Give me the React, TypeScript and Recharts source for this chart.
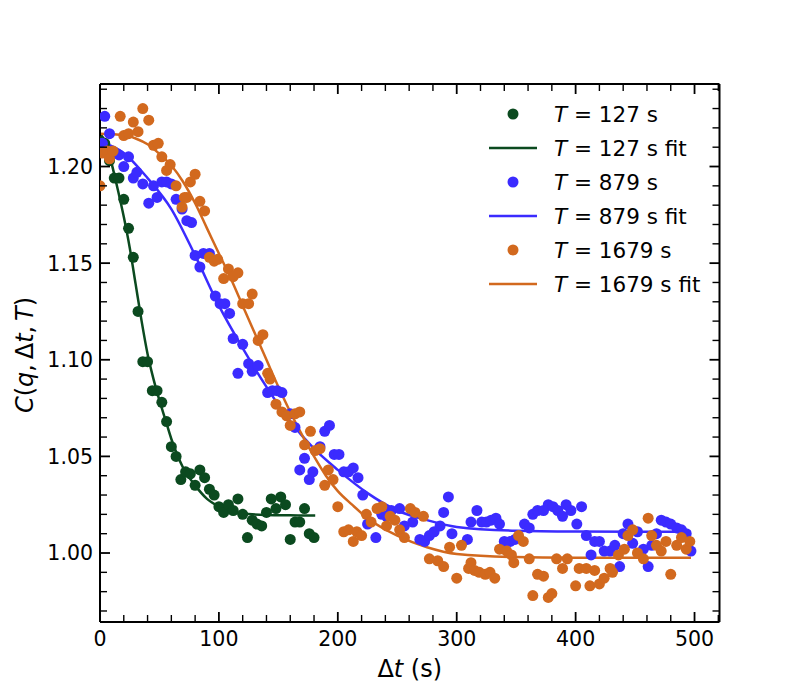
import { ComposedChart, Scatter, Line, XAxis, YAxis, Legend } from "recharts";

const FONT = "'DejaVu Sans', sans-serif";
const GREEN = "#0b4a1f";
const BLUE = "#3b2bff";
const ORANGE = "#d2691e";

// T = 127 s
const greenT = [0, 4, 8, 12, 16, 20, 24, 28, 32, 36, 40, 44, 48, 52, 56, 60, 64, 68, 72, 76, 80, 84, 88, 92, 96, 100, 104, 108, 112, 116, 120, 124, 128, 132, 136, 140, 144, 148, 152, 156, 160, 164, 168, 172, 176, 180];
const greenC = [1.213, 1.212, 1.203, 1.194, 1.194, 1.183, 1.168, 1.153, 1.125, 1.099, 1.099, 1.084, 1.084, 1.078, 1.068, 1.055, 1.05, 1.038, 1.042, 1.041, 1.035, 1.043, 1.039, 1.033, 1.03, 1.024, 1.021, 1.025, 1.022, 1.028, 1.02, 1.008, 1.017, 1.015, 1.014, 1.021, 1.028, 1.023, 1.029, 1.025, 1.007, 1.016, 1.016, 1.023, 1.01, 1.008];
const greenFitT = [0, 5, 10, 15, 20, 25, 30, 35, 40, 45, 50, 55, 60, 70, 80, 90, 100, 110, 120, 140, 160, 181];
const greenFitC = [1.217, 1.212, 1.201, 1.188, 1.174, 1.158, 1.139, 1.12, 1.103, 1.09, 1.079, 1.069, 1.059, 1.044, 1.035, 1.028, 1.024, 1.0215, 1.0205, 1.0197, 1.0195, 1.0194];

// T = 879 s
const blueT = [2, 4, 8, 12, 16, 20, 24, 28, 31, 36, 41, 45, 48, 52, 56, 60, 64, 69, 73, 77, 80, 84, 87, 92, 97, 101, 105, 109, 112, 116, 120, 125, 128, 133, 141, 145, 149, 153, 160, 164, 168, 172, 176, 179, 185, 189, 193, 197, 201, 205, 209, 213, 217, 221, 225, 232, 237, 241, 245, 252, 256, 263, 269, 273, 277, 281, 286, 289, 293, 296, 309, 312, 317, 321, 325, 329, 333, 336, 340, 345, 349, 357, 361, 364, 368, 373, 377, 381, 385, 389, 392, 396, 401, 405, 409, 413, 416, 420, 424, 429, 433, 437, 440, 444, 448, 452, 457, 461, 464, 468, 472, 476, 480, 485, 489, 493, 497];
const blueC = [1.212, 1.226, 1.217, 1.207, 1.206, 1.2, 1.205, 1.194, 1.197, 1.191, 1.181, 1.19, 1.184, 1.192, 1.192, 1.191, 1.183, 1.178, 1.172, 1.171, 1.154, 1.148, 1.155, 1.155, 1.133, 1.129, 1.129, 1.124, 1.111, 1.093, 1.108, 1.098, 1.094, 1.097, 1.083, 1.084, 1.084, 1.083, 1.072, 1.065, 1.043, 1.049, 1.038, 1.042, 1.055, 1.063, 1.066, 1.051, 1.051, 1.042, 1.042, 1.044, 1.039, 1.03, 1.015, 1.008, 1.02, 1.019, 1.022, 1.023, 1.014, 1.016, 1.007, 1.006, 1.009, 1.011, 1.014, 1.021, 1.029, 1.01, 1.007, 1.016, 1.022, 1.016, 1.016, 1.017, 1.018, 1.015, 1.006, 1.006, 1.007, 1.015, 1.013, 1.02, 1.022, 1.022, 1.025, 1.024, 1.022, 1.019, 1.025, 1.022, 1.015, 1.024, 1.009, 0.999, 1.006, 1.006, 1.001, 1.001, 1.004, 0.993, 1.01, 1.015, 1.005, 1.011, 1.002, 0.993, 1.004, 1.01, 1.017, 1.016, 1.015, 1.013, 1.012, 1.01, 1.001];
const blueFitT = [0, 20, 40, 60, 80, 100, 120, 140, 160, 180, 200, 225, 250, 275, 300, 350, 400, 450, 497];
const blueFitC = [1.213, 1.207, 1.194, 1.178, 1.154, 1.128, 1.106, 1.086, 1.068, 1.054, 1.043, 1.031, 1.022, 1.017, 1.0135, 1.0115, 1.0111, 1.011, 1.011];

// T = 1679 s
const orangeT = [0, 2, 6, 8, 11, 17, 20, 24, 28, 32, 36, 41, 45, 49, 52, 56, 59, 64, 69, 71, 73, 76, 80, 84, 88, 92, 96, 99, 104, 108, 112, 116, 120, 125, 128, 133, 137, 141, 143, 148, 153, 157, 160, 164, 168, 172, 177, 181, 185, 189, 192, 196, 200, 205, 209, 213, 216, 220, 224, 228, 233, 237, 241, 244, 248, 252, 256, 261, 265, 272, 277, 284, 289, 294, 300, 304, 310, 312, 315, 319, 324, 328, 332, 336, 342, 346, 348, 352, 356, 361, 364, 368, 373, 377, 380, 384, 389, 393, 400, 403, 409, 412, 416, 420, 424, 429, 431, 436, 441, 444, 448, 452, 457, 461, 464, 468, 472, 476, 480, 485, 489, 493, 496];
const orangeC = [1.19, 1.207, 1.208, 1.204, 1.208, 1.226, 1.216, 1.217, 1.223, 1.218, 1.23, 1.224, 1.211, 1.212, 1.205, 1.198, 1.201, 1.19, 1.179, 1.184, 1.184, 1.192, 1.196, 1.182, 1.177, 1.153, 1.151, 1.152, 1.142, 1.147, 1.143, 1.145, 1.129, 1.129, 1.134, 1.11, 1.113, 1.093, 1.09, 1.077, 1.073, 1.071, 1.066, 1.072, 1.073, 1.056, 1.063, 1.053, 1.054, 1.035, 1.043, 1.038, 1.024, 1.011, 1.012, 1.006, 1.011, 1.009, 1.02, 1.016, 1.023, 1.024, 1.014, 1.019, 1.017, 1.012, 1.008, 1.023, 1.021, 1.019, 0.997, 0.996, 0.993, 1.003, 0.987, 1.004, 0.992, 0.995, 0.991, 0.99, 0.989, 0.99, 0.987, 1.002, 1.001, 0.999, 0.995, 1.009, 1.006, 0.997, 0.978, 0.989, 0.988, 0.977, 0.979, 0.997, 0.992, 0.997, 0.983, 0.992, 0.992, 0.983, 0.991, 0.984, 0.987, 0.992, 0.99, 0.999, 1.002, 1.009, 1.012, 1.0, 0.997, 1.018, 1.009, 1.004, 1.001, 1.006, 0.989, 1.004, 1.008, 1.002, 1.006];
const orangeFitT = [0, 20, 30, 40, 50, 60, 70, 80, 90, 100, 110, 120, 130, 140, 150, 160, 170, 180, 190, 200, 212, 225, 250, 275, 300, 350, 400, 497];
const orangeFitC = [1.217, 1.2163, 1.2145, 1.2115, 1.2065, 1.2005, 1.192, 1.181, 1.168, 1.155, 1.142, 1.128, 1.114, 1.1, 1.086, 1.073, 1.061, 1.05, 1.04, 1.032, 1.025, 1.018, 1.009, 1.003, 0.9995, 0.9979, 0.9976, 0.9975];

const xTicks = [0, 20, 40, 60, 80, 100, 120, 140, 160, 180, 200, 220, 240, 260, 280, 300, 320, 340, 360, 380, 400, 420, 440, 460, 480, 500, 520];
const yTicks = [0.97, 0.98, 0.99, 1.0, 1.01, 1.02, 1.03, 1.04, 1.05, 1.06, 1.07, 1.08, 1.09, 1.1, 1.11, 1.12, 1.13, 1.14, 1.15, 1.16, 1.17, 1.18, 1.19, 1.2, 1.21, 1.22, 1.23, 1.24];

const legendLabels = ["127 s", "127 s fit", "879 s", "879 s fit", "1679 s", "1679 s fit"];
const legendColors = [GREEN, GREEN, BLUE, BLUE, ORANGE, ORANGE];

const pts = (t: number[], c: number[]) => t.map((x, i) => ({ t: x, v: c[i] }));

const isMajorX = (v: number) => v % 100 === 0;
const isMajorY = (v: number) => Math.round(v * 100) % 5 === 0;

function BottomTick({ x, y, payload }: any) {
  const major = isMajorX(payload.value);
  return (
    <g>
      <line x1={x} x2={x} y1={y} y2={y - (major ? 10 : 7)} stroke="#000" strokeWidth={major ? 1.8 : 1.4} />
      {major && (
        <text x={x} y={y + 24} textAnchor="middle" fontSize={20.5} fontFamily={FONT} fill="#000">
          {payload.value}
        </text>
      )}
    </g>
  );
}

function TopTick({ x, y, payload }: any) {
  const major = isMajorX(payload.value);
  return <line x1={x} x2={x} y1={y} y2={y + (major ? 10 : 7)} stroke="#000" strokeWidth={major ? 1.8 : 1.4} />;
}

function LeftTick({ x, y, payload }: any) {
  const major = isMajorY(payload.value);
  return (
    <g>
      <line x1={x} x2={x + (major ? 10 : 7)} y1={y} y2={y} stroke="#000" strokeWidth={major ? 1.8 : 1.4} />
      {major && (
        <text x={x - 7} y={y} dy="0.36em" textAnchor="end" fontSize={20.5} fontFamily={FONT} fill="#000">
          {payload.value.toFixed(2)}
        </text>
      )}
    </g>
  );
}

function RightTick({ x, y, payload }: any) {
  const major = isMajorY(payload.value);
  return <line x1={x} x2={x - (major ? 10 : 7)} y1={y} y2={y} stroke="#000" strokeWidth={major ? 1.8 : 1.4} />;
}

function XLabel({ viewBox }: any) {
  const cx = viewBox.x + viewBox.width / 2;
  return (
    <text x={cx} y={viewBox.y + 55} textAnchor="middle" fontSize={24} fontFamily={FONT} fill="#000">
      Δ<tspan fontStyle="italic">t</tspan> (s)
    </text>
  );
}

function YLabel({ viewBox }: any) {
  const cx = 25;
  const cy = viewBox.y + viewBox.height / 2 + 2;
  return (
    <text x={cx} y={cy} transform={`rotate(-90, ${cx}, ${cy})`} textAnchor="middle" fontSize={24} fontFamily={FONT} fill="#000">
      <tspan fontStyle="italic">C</tspan>(<tspan fontStyle="italic">q</tspan>,{"\u2009"}Δ<tspan fontStyle="italic">t</tspan>,{"\u2009"}
      <tspan fontStyle="italic">T</tspan>)
    </text>
  );
}

function LegendBox() {
  return (
    <svg width={240} height={215}>
      {legendLabels.map((lab, i) => {
        const cy = 20 + i * 34;
        const color = legendColors[i];
        return (
          <g key={lab}>
            {i % 2 === 0 ? (
              <circle cx={33} cy={cy} r={5.5} fill={color} />
            ) : (
              <line x1={9} x2={57} y1={cy} y2={cy} stroke={color} strokeWidth={2.5} />
            )}
            <text x={74} y={cy + 8} fontSize={21.5} fontFamily={FONT} fill="#000">
              <tspan fontStyle="italic">T</tspan>
              {` = ${lab}`}
            </text>
          </g>
        );
      })}
    </svg>
  );
}

const dot = (color: string) => (p: any) => <circle cx={p.cx} cy={p.cy} r={5.5} fill={color} />;

export default function App() {
  return (
    <div style={{ width: 792, height: 692, position: "relative", background: "#fff" }}>
      <ComposedChart width={792} height={692} margin={{ top: 75, right: 79.5, bottom: 18, left: 12 }}>
        <XAxis
          xAxisId="b"
          dataKey="t"
          type="number"
          domain={[0, 521]}
          allowDataOverflow
          ticks={xTicks}
          interval={0}
          tickSize={0}
          tickMargin={0}
          tickLine={false}
          tick={<BottomTick />}
          axisLine={{ stroke: "#000", strokeWidth: 2 }}
          height={60}
          label={<XLabel />}
        />
        <XAxis
          xAxisId="top"
          orientation="top"
          dataKey="t"
          type="number"
          domain={[0, 521]}
          allowDataOverflow
          ticks={xTicks}
          interval={0}
          tickSize={0}
          tickMargin={0}
          tickLine={false}
          tick={<TopTick />}
          axisLine={{ stroke: "#000", strokeWidth: 2 }}
          height={1}
        />
        <YAxis
          yAxisId="l"
          dataKey="v"
          type="number"
          domain={[0.9643, 1.2427]}
          allowDataOverflow
          ticks={yTicks}
          interval={0}
          tickSize={0}
          tickMargin={0}
          tickLine={false}
          tick={<LeftTick />}
          axisLine={{ stroke: "#000", strokeWidth: 2 }}
          width={80}
          label={<YLabel />}
        />
        <YAxis
          yAxisId="r"
          orientation="right"
          dataKey="v"
          type="number"
          domain={[0.9643, 1.2427]}
          allowDataOverflow
          ticks={yTicks}
          interval={0}
          tickSize={0}
          tickMargin={0}
          tickLine={false}
          tick={<RightTick />}
          axisLine={{ stroke: "#000", strokeWidth: 2 }}
          width={1}
        />
        <Legend
          layout="horizontal"
          verticalAlign="middle"
          align="center"
          wrapperStyle={{ left: 472, top: 86, width: 240 }}
          content={() => <LegendBox />}
        />
        <Scatter xAxisId="b" yAxisId="l" data={pts(greenT, greenC)} dataKey="v" shape={dot(GREEN)} isAnimationActive={false} />
        <Line xAxisId="b" yAxisId="l" data={pts(greenFitT, greenFitC)} dataKey="v" type="monotone" stroke={GREEN} strokeWidth={2.5} dot={false} activeDot={false} isAnimationActive={false} />
        <Scatter xAxisId="b" yAxisId="l" data={pts(blueT, blueC)} dataKey="v" shape={dot(BLUE)} isAnimationActive={false} />
        <Line xAxisId="b" yAxisId="l" data={pts(blueFitT, blueFitC)} dataKey="v" type="monotone" stroke={BLUE} strokeWidth={2.5} dot={false} activeDot={false} isAnimationActive={false} />
        <Scatter xAxisId="b" yAxisId="l" data={pts(orangeT, orangeC)} dataKey="v" shape={dot(ORANGE)} isAnimationActive={false} />
        <Line xAxisId="b" yAxisId="l" data={pts(orangeFitT, orangeFitC)} dataKey="v" type="monotone" stroke={ORANGE} strokeWidth={2.5} dot={false} activeDot={false} isAnimationActive={false} />
      </ComposedChart>
    </div>
  );
}
